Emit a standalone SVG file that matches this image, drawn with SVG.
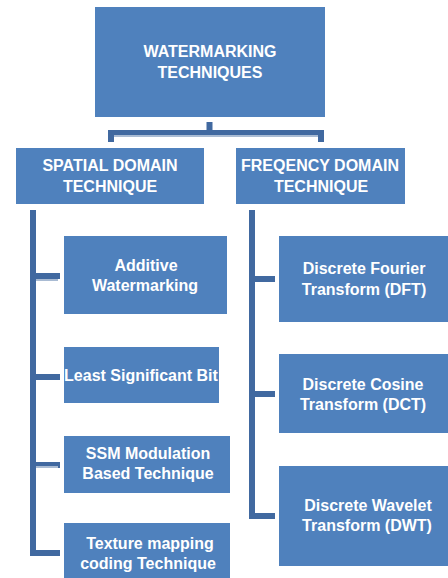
<svg xmlns="http://www.w3.org/2000/svg" width="448" height="578" viewBox="0 0 448 578">
  <style>
    .box { fill: #4F81BD; }
    .lbl { font-family: "Liberation Sans", Arial, sans-serif; font-weight: bold; font-size: 16px; fill: #FFFFFF; text-anchor: middle; dominant-baseline: central; }
    .lbl-s { font-size: 15px; }
    .wire { fill: none; stroke: #4169A0; stroke-width: 6; stroke-linecap: butt; stroke-linejoin: miter; }
    .shine { fill: none; stroke: #A9BBD3; stroke-width: 2; }
  </style>
  <rect width="448" height="578" fill="#FFFFFF"/>

  <g id="connectors">
    <!-- root to the two domains -->
    <path class="wire" d="M209.5 122 V131"/>
    <path class="wire" d="M111 142 V133 H321 V142"/>
    <path class="shine" d="M114 136 H318"/>
    <!-- spatial domain spine and branches -->
    <path class="wire" d="M33 210 V553 H60"/>
    <path class="wire" d="M36 276 H60 M36 377 H60 M36 465 H60"/>
    <path class="shine" d="M36 280 H58 M36 467 H58"/>
    <!-- frequency domain spine and branches -->
    <path class="wire" d="M252 210 V516 H275"/>
    <path class="wire" d="M255 279 H275 M255 394 H275"/>
  </g>

  <g id="root">
    <rect class="box" x="95" y="7" width="230" height="110"/>
    <text class="lbl" x="210" y="51">WATERMARKING</text>
    <text class="lbl" x="210" y="72">TECHNIQUES</text>
  </g>

  <g id="spatial">
    <rect class="box" x="16" y="148" width="188" height="56"/>
    <text class="lbl" x="110" y="165">SPATIAL DOMAIN</text>
    <text class="lbl" x="110" y="186">TECHNIQUE</text>
  </g>

  <g id="frequency">
    <rect class="box" x="236" y="148" width="169" height="56"/>
    <text class="lbl" x="320" y="165">FREQENCY DOMAIN</text>
    <text class="lbl" x="321" y="186">TECHNIQUE</text>
  </g>

  <g id="additive">
    <rect class="box" x="64" y="236" width="163" height="78"/>
    <text class="lbl" x="146" y="265">Additive</text>
    <text class="lbl" x="145" y="285">Watermarking</text>
  </g>

  <g id="lsb">
    <rect class="box" x="64" y="347" width="155" height="56"/>
    <text class="lbl" x="141" y="375">Least Significant Bit</text>
  </g>

  <g id="ssm">
    <rect class="box" x="64" y="436" width="166" height="57"/>
    <text class="lbl" x="148" y="453">SSM Modulation</text>
    <text class="lbl" x="148" y="473">Based Technique</text>
  </g>

  <g id="texture">
    <rect class="box" x="64" y="523" width="166" height="55"/>
    <text class="lbl" x="150" y="543">Texture mapping</text>
    <text class="lbl" x="148" y="563">coding Technique</text>
  </g>

  <g id="dft">
    <rect class="box" x="279" y="236" width="169" height="86"/>
    <text class="lbl" x="364" y="268">Discrete Fourier</text>
    <text class="lbl" x="364" y="289">Transform (DFT)</text>
  </g>

  <g id="dct">
    <rect class="box" x="279" y="354" width="169" height="79"/>
    <text class="lbl" x="363" y="384">Discrete Cosine</text>
    <text class="lbl" x="363" y="404">Transform (DCT)</text>
  </g>

  <g id="dwt">
    <rect class="box" x="279" y="466" width="169" height="100"/>
    <text class="lbl" x="368" y="505">Discrete Wavelet</text>
    <text class="lbl" x="367" y="525">Transform (DWT)</text>
  </g>
</svg>
